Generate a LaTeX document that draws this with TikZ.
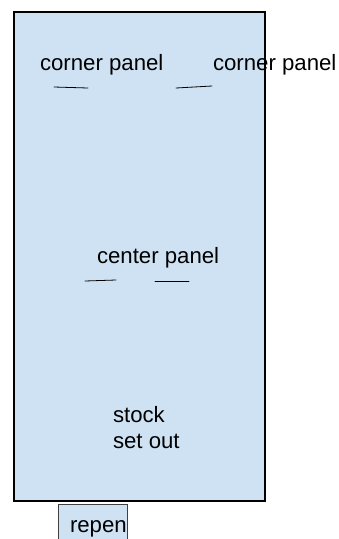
\documentclass[tikz,border=0pt]{standalone}
\usepackage{fontspec}
\setmainfont{Liberation Sans}
\definecolor{panelblue}{HTML}{CFE2F3}
\tikzset{%
   lbl/.style={inner sep=0pt, outer sep=0pt, anchor=base west, font=\fontsize{22.2}{26}\selectfont},
   tick/.style={line width=0.8pt, line cap=round},
   floor/.style={fill=panelblue, draw=black, line width=2pt},
   bin/.style={fill=panelblue, draw=black!75, line width=0.8pt},
}
\begin{document}
\begin{tikzpicture}[x=1pt, y=-1pt]
   \useasboundingbox (0,0) rectangle (338,539);
   \draw[floor] (14,12) rectangle (265,501);
   % top labels
   \node[lbl] (cpl) at (40,70) {corner panel};
   \node[lbl] (cpr) at (213,70) {corner panel};
   \draw[tick] (54,87) -- (88,88);
   \draw[tick] (176,88) -- (212,86);
   % middle
   \node[lbl] (cp) at (97,263) {center panel};
   \draw[tick] (85,281) -- (116,280);
   \draw[tick] (155,281) -- (189,281);
   % stock
   \node[lbl] (st) at (113,422) {stock};
   \node[lbl] (so) at (113,448) {set out};
   % bin below
   \fill[panelblue] (58,504) rectangle (127,539);
   \draw[bin] (58,539) |- (127,504) -- (127,539);
   \begin{scope}
      \clip (58,504) rectangle (126.6,539);
      \node[lbl] (rp) at (70,532) {repen};
   \end{scope}
\end{tikzpicture}
\end{document}
